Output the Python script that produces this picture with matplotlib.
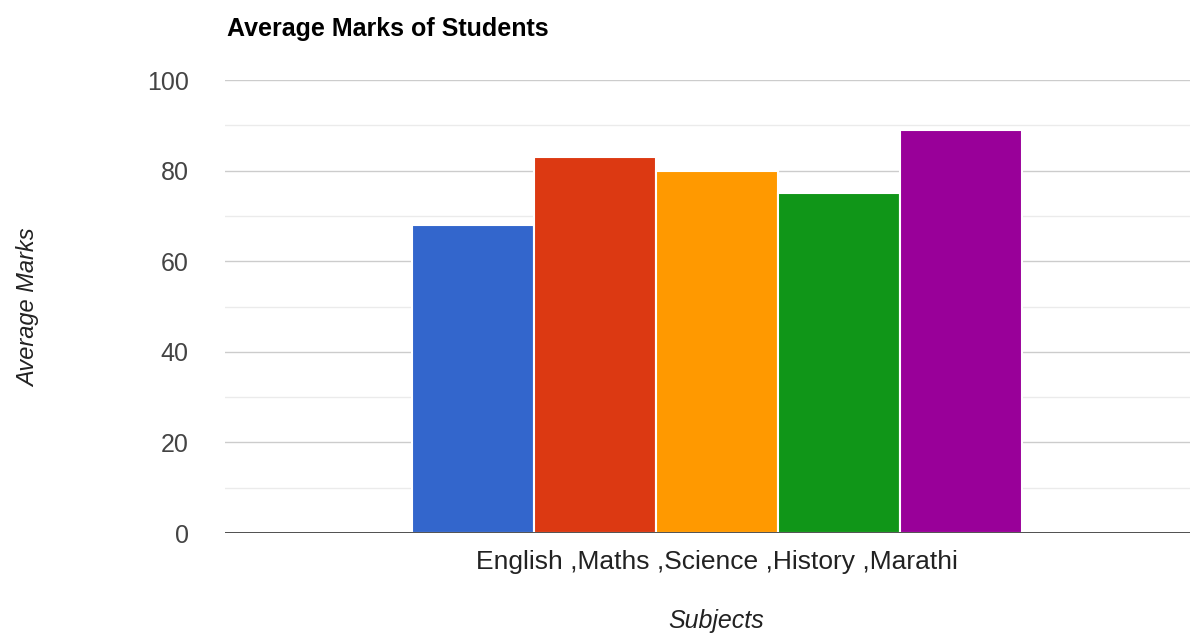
import numpy as np
import matplotlib.pyplot as plt

subjects = ["English", "Maths", "Science", "History", "Marathi"]
marks = [68, 83, 80, 75, 89]
colors = ["#3366cc", "#dc3912", "#ff9900", "#109618", "#990099"]
yticks = [0, 20, 40, 60, 80, 100]

plt.rcParams['font.family'] = ['Liberation Sans', 'DejaVu Sans']

fig = plt.figure(figsize=(11.9, 6.35), dpi=100)
ax = fig.add_axes([0.189, 0.1606, 0.811, 0.7134])

x = np.arange(len(subjects))
ax.bar(x, marks, width=1.0, color=colors, edgecolor="white", linewidth=1.5, zorder=3)

ax.set_ylim(0, 100)
ax.set_xlim(-2.03, 5.88)
ax.set_yticks(yticks)
ax.set_yticks([10, 30, 50, 70, 90], minor=True)
ax.grid(axis="y", which="major", color="#cccccc", linewidth=1, zorder=0)
ax.grid(axis="y", which="minor", color="#ebebeb", linewidth=1, zorder=0)
ax.axhline(0, color="#333333", linewidth=1.2, zorder=4)
for s in ax.spines.values():
    s.set_visible(False)
ax.tick_params(axis="y", which="both", length=0, pad=26, labelsize=18, labelcolor="#444444")
ax.tick_params(axis="x", length=0)
ax.set_xticks([])

# single category label under the grouped bars
ax.text(np.mean(x), -6.3, " ,".join(subjects), ha="center", va="center",
        fontsize=19, color="#222222")
fig.text(0.602, 0.022, "Subjects", ha="center", va="center",
         fontsize=18, style="italic", color="#222222")
fig.text(0.024, 0.515, "Average Marks", rotation=90, ha="center", va="center",
         fontsize=17, style="italic", color="#222222")
fig.text(0.191, 0.955, "Average Marks of Students", ha="left", va="center",
         fontsize=18, fontweight="bold", color="#000000")

fig.savefig("out.png", dpi=100)
